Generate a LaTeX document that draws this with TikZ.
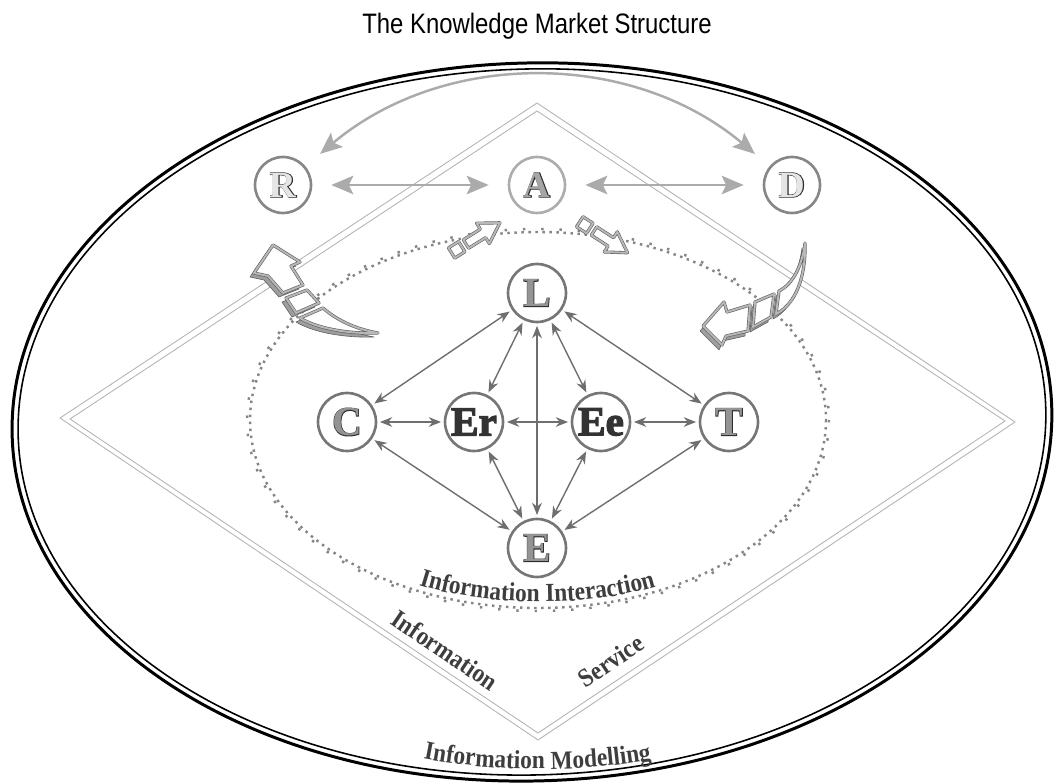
\documentclass[tikz,border=0pt]{standalone}
\usepackage{fontspec}
\setmainfont{Liberation Serif}
\newfontfamily\titlefont{Liberation Sans}[FakeStretch=0.85]
\newfontfamily\edgefont{Liberation Serif}[BoldFeatures={FakeBold=3}]
\newfontfamily\lblfam{Liberation Serif}[BoldFeatures={FakeStretch=0.9}]
\usepackage{tkz-euclide}
\usetikzlibrary{arrows.meta,decorations.text}
\definecolor{RingClr}{HTML}{767676}
\definecolor{TopClr}{HTML}{ABABAB}
\definecolor{DiamondClr}{HTML}{B4B4B4}
\definecolor{LinkClr}{HTML}{6E6E6E}
\definecolor{DotClr}{HTML}{858585}
\definecolor{TextClr}{HTML}{3E3E3E}
\definecolor{EdgeClr}{HTML}{2E2E2E}
\newcommand\hollow[2]{\makebox[0pt]{\edgefont\bfseries\color{EdgeClr}#2}\makebox[0pt]{\bfseries\color{#1}#2}}
\newcommand\lblfont{\color{TextClr}\lblfam\bfseries\fontsize{14.8}{16}\selectfont}

\begin{document}
\begin{tikzpicture}[x=0.02cm,y=-0.02cm,
  topnode/.style={circle,line width=1.5pt,minimum size=1.12cm,inner sep=0pt,font=\fontsize{21}{23}\selectfont},
  netnode/.style={circle,draw=RingClr,line width=1.5pt,minimum size=1.16cm,inner sep=0pt,font=\fontsize{23.5}{25}\selectfont},
  toparrow/.style={draw=TopClr,line width=1.4pt,{Stealth[length=12.5pt,width=10.5pt,inset=2.5pt]}-{Stealth[length=12.5pt,width=10.5pt,inset=2.5pt]},shorten <=0.38cm,shorten >=0.38cm},
  link/.style={draw=LinkClr,line width=0.8pt,{Stealth[length=7pt,width=5.5pt]}-{Stealth[length=7pt,width=5.5pt]},shorten <=1.5pt,shorten >=1.5pt},
  dotline/.style={draw=DotClr,line width=1.4pt,dash pattern=on 1.4pt off 2.6pt},
  arrface/.style={fill=white,draw=black!62,double=black!28,double distance=1.1pt,line width=0.35pt,line join=round},
  arrside/.style={fill=black!38,draw=black!62,line width=0.35pt,line join=round},
  lbl/.style={font=\lblfont}]
\useasboundingbox (0,0) rectangle (1054,783);

% outer ring
\coordinate (rim) at (532,422);
\draw[line width=1.7pt,rotate around={1.5:(rim)}] (rim) ellipse [x radius=520,y radius=359];
\draw[line width=0.9pt,rotate around={1.5:(rim)}] (rim) ellipse [x radius=514,y radius=353];

% diamond
\tkzDefPoints{537/103/o1,1015/422/o2,538/740/o3,60/418/o4,537/111/i1,1005/421/i2,538/733/i3,70/419/i4}
\tkzDrawPolygon[color=DiamondClr,line width=0.5pt](o1,o2,o3,o4)
\tkzDrawPolygon[color=DiamondClr,line width=0.5pt](i1,i2,i3,i4)

% interaction ring
\draw[dotline] (538,420) ellipse [x radius=288,y radius=188];
\draw[dotline,dash pattern=on 1.4pt off 9pt] (538,420) ellipse [x radius=291,y radius=191];

\node[font=\titlefont\fontsize{16}{18}\selectfont,anchor=base] (title) at (537,34) {The Knowledge Market Structure};

% top level
\node[topnode,draw=black!47] (R) at (283,185) {\hollow{black!10}{R}};
\node[topnode,draw=black!32] (A) at (537,185) {\hollow{black!35}{A}};
\node[topnode,draw=black!47] (D) at (792,185) {\hollow{black!10}{D}};
\draw[toparrow] (R) -- (A);
\draw[toparrow] (A) -- (D);
\draw[toparrow] (R) to[bend left=40] (D);

% block arrows
\def\lhead{(273,245) -- (300,262) -- (291,266) -- (303,285) -- (283,293) -- (268,276) -- (254,273) -- cycle}
\def\lmid{(286,298) -- (307,290) -- (319,303) -- (296,313) -- cycle}
\def\ltail{(300,318) -- (323,308) .. controls (338,321) and (356,329) .. (378,333) .. controls (350,334) and (318,329) .. (300,318) -- cycle}
\def\rtail{(805,243) .. controls (802,266) and (793,284) .. (779,291) -- (776,314) .. controls (796,304) and (806,276) .. (805,243) -- cycle}
\def\rmid{(774,294) -- (771,317) -- (753,327) -- (755,302) -- cycle}
\def\rhead{(750,305) -- (748,331) -- (726,336) -- (722,345) -- (703,326) -- (724,302) -- (727,312) -- cycle}
\foreach \p in {\lhead,\lmid,\ltail} \draw[arrside,shift={(-4,4)}] \p;
\foreach \p in {\lhead,\lmid,\ltail} \draw[arrface] \p;
\foreach \p in {\rtail,\rmid,\rhead} \draw[arrside,shift={(-3,5)}] \p;
\foreach \p in {\rtail,\rmid,\rhead} \draw[arrface] \p;

\def\smallarr{(0,-5) -- (20,-5) -- (20,-12) -- (40,0) -- (20,12) -- (20,5) -- (0,5) -- cycle}
\def\smallsq{(-17,-6) rectangle (-5,6)}
\begin{scope}[shift={(466,244)},rotate=32]
  \draw[arrface] \smallsq;
  \draw[arrface] \smallarr;
\end{scope}
\begin{scope}[shift={(594,231)},rotate=-33]
  \draw[arrface] \smallsq;
  \draw[arrface] \smallarr;
\end{scope}

% network
\node[netnode] (L) at (537,293) {\hollow{black!42}{L}};
\node[netnode] (C) at (347,422) {\hollow{black!42}{C}};
\node[netnode] (Er) at (474,422) {\edgefont\bfseries\color{black!80}Er};
\node[netnode] (Ee) at (601,422) {\edgefont\bfseries\color{black!80}Ee};
\node[netnode] (T) at (729,422) {\hollow{black!42}{T}};
\node[netnode] (E) at (537,548) {\hollow{black!42}{E}};
\foreach \a/\b in {L/C,L/Er,L/E,L/Ee,L/T,C/Er,Er/Ee,Ee/T,C/E,Er/E,Ee/E,T/E}
  \draw[link] (\a) -- (\b);

% labels
\path[decorate,decoration={text along path,text align=center,text={|\lblfont|Information Interaction}}]
  (395,576) .. controls (470,610) and (605,610) .. (680,578);
\path[decorate,decoration={text along path,text align=center,text={|\lblfont|Information Modelling}}]
  (400,753) .. controls (475,774) and (600,774) .. (675,755);
\node[lbl,rotate=-34] (info) at (445,650) {Information};
\node[lbl,rotate=34] (serv) at (611,661) {Service};

\end{tikzpicture}
\end{document}
